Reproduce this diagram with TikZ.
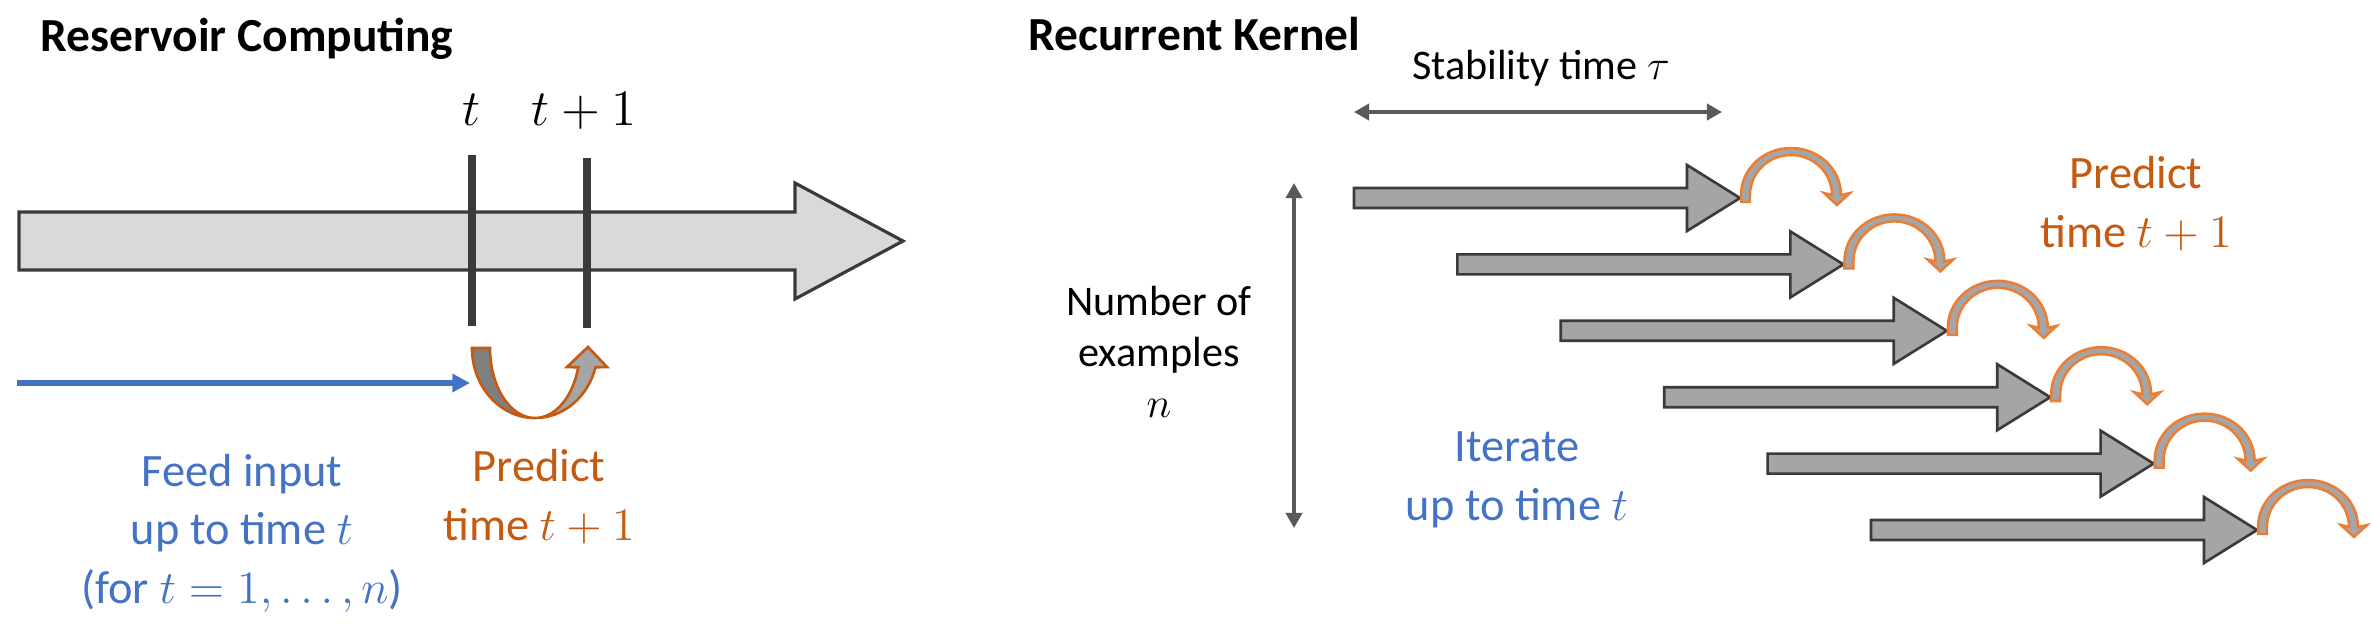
\documentclass[tikz,border=0pt]{standalone}
\usepackage{fix-cm}
\usepackage{amsmath,amssymb}
\usepackage[no-math]{fontspec}
\setmainfont{Carlito}
\usepackage{tikz}
\usetikzlibrary{arrows.meta,positioning,calc}
\definecolor{cK}{HTML}{3a3a3a}
\definecolor{cD}{HTML}{595959}
\definecolor{cG}{HTML}{a5a5a5}
\definecolor{cM}{HTML}{7f7f7f}
\definecolor{cL}{HTML}{d9d9d9}
\definecolor{cB}{HTML}{4472c4}
\definecolor{cO}{HTML}{c55a11}
\definecolor{cP}{HTML}{ed7d31}
\tikzset{
  ttl/.style={font=\fontsize{13.5}{16}\selectfont\bfseries,anchor=base west,inner sep=0pt},
  lbl/.style={font=\fontsize{12}{14.5}\selectfont,align=center,anchor=base,inner sep=0pt},
  txt/.style={font=\fontsize{13.2}{16.5}\selectfont,align=center,anchor=base,inner sep=0pt},
  tlab/.style={font=\fontsize{14.5}{16}\selectfont,anchor=base,inner sep=0pt},
  tline/.style={line width=2pt,cK},
  bigarr/.style={draw=cK,fill=cL,line width=.9pt},
  band/.style={draw=cK,fill=cG,line width=.75pt},
  hop/.style={draw=cP,fill=cG,line width=.7pt},
  uturn/.style={draw=cO,line width=.75pt},
  span/.style={{Triangle[length=4.3pt,width=4.6pt]}-{Triangle[length=4.3pt,width=4.6pt]},
               line width=1pt,cD},
  feed/.style={-{Triangle[length=5pt,width=5pt]},line width=1.6pt,cB},
}
\begin{document}
\begin{tikzpicture}[x=0.01cm,y=-0.01cm]
  \useasboundingbox (0,0) rectangle (2371,623);
  \node[ttl] (rc) at (40,51) {Reservoir Computing};
  \filldraw[bigarr] (19,212) -- (795,212) -- (795,183) -- (903,241) -- (795,299)
    -- (795,270) -- (19,270) -- cycle;
  \coordinate (t0) at (472,155);
  \coordinate (t1) at (587,158);
  \draw[tline] (t0) -- ++(0,171);
  \draw[tline] (t1) -- ++(0,170);
  \node[tlab] (tl0) at (472,125) {$t$};
  \node[tlab] (tl1) at (584,125) {$t+1$};
  \coordinate (fs) at (17,383);
  \coordinate (fe) at (470,383);
  \draw[feed] (fs) -- (fe);
  \filldraw[uturn,fill=cM] (472,348) arc[start angle=180,end angle=90,x radius=63,y radius=70]
    arc[start angle=90,end angle=180,x radius=45,y radius=70] -- cycle;
  \filldraw[uturn,fill=cG] (535,418) arc[start angle=90,end angle=16,x radius=63,y radius=70]
    -- (607,367) -- (588,347) -- (567,367) -- (578.3,367.3)
    arc[start angle=16,end angle=90,x radius=45,y radius=70] -- cycle;
  \node[txt,text=cB] (fd) at (242,603) {Feed input\\up to time $t$\\(for $t=1,\dots,n$)};
  \node[txt,text=cO] (pl) at (539,540) {Predict\\time $t+1$};

  \node[ttl] (rk) at (1028,50) {Recurrent Kernel};
  \node[lbl] (st) at (1541,79) {Stability time $\tau$};
  \coordinate (sa) at (1354,112);
  \coordinate (sb) at (1722,112);
  \draw[span] (sa) -- (sb);
  \coordinate (na) at (1294,183);
  \coordinate (nb) at (1294,528);
  \draw[span] (na) -- (nb);
  \node[lbl] (ne) at (1159,417) {Number of\\examples\\$n$};
  \node[txt,text=cB] (it) at (1517,520) {Iterate\\up to time $t$};
  \node[txt,text=cO] (pr) at (2136,247) {Predict\\time $t+1$};
  \foreach \i in {0,...,5}{
    \begin{scope}[shift={(1354+103.4*\i,198+66.4*\i)}]
      \filldraw[band] (0,-10) -- (333,-10) -- (333,-33) -- (386,0) -- (333,33)
        -- (333,10) -- (0,10) -- cycle;
      \filldraw[hop] (387,4) -- (387,-3) arc[start angle=180,end angle=360,x radius=50,y radius=47]
        -- (496,-5) -- (483,7) -- (470,-5) -- (478,-3)
        arc[start angle=0,end angle=-180,x radius=41,y radius=40] -- (396,4) -- cycle;
    \end{scope}
  }
\end{tikzpicture}
\end{document}
